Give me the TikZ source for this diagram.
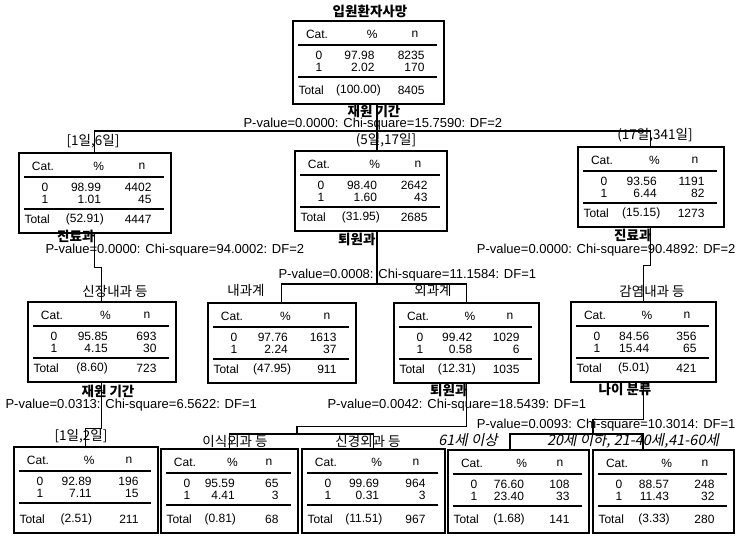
\documentclass[tikz,border=0pt]{standalone}
\usepackage{fontspec}
\setmainfont{Liberation Sans}
\newfontfamily\kr{Noto Sans CJK KR}
\newfontfamily\krit[FakeSlant=0.2]{Noto Sans CJK KR}

\tikzset{
  every node/.style={inner sep=0pt, font=\fontsize{12}{14}\selectfont},
  leaf/.style={draw, line width=1.5pt, anchor=north west},
  rule/.style={line width=1.1pt},
  stat/.style={font=\fontsize{13}{15}\selectfont},
  splitvar/.style={font=\kr\bfseries\fontsize{13.5}{15}\selectfont},
  branch/.style={font=\kr\fontsize{13.5}{15}\selectfont},
  agegroup/.style={font=\krit\fontsize{14.5}{16}\selectfont}
}

\begin{document}
\begin{tikzpicture}[x=1pt, y=-1pt, line width=1.1pt]

\useasboundingbox (0,0) rectangle (736,549);

% title
\node [font=\kr\bfseries\fontsize{13.5}{15}\selectfont] (title) at (370,11) {입원환자사망};

% define tree nodes
\foreach \nm/\x/\y/\w/\h/\pa/\na/\pb/\nb/\pc/\nc in {
  T/292/20/151/83/97.98/8235/2.02/170/100.00/8405,
  L/18/152/152/80/98.99/4402/1.01/45/52.91/4447,
  M/294/150/152/80/98.40/2642/1.60/43/31.95/2685,
  R/577/146/146/80/93.56/1191/6.44/82/15.15/1273,
  A/27/301/148/80/95.85/693/4.15/30/8.60/723,
  B/207/302/148/80/97.76/1613/2.24/37/47.95/911,
  C/393/302/145/80/99.42/1029/0.58/6/12.31/1035,
  D/570/301/145/80/84.56/356/15.44/65/5.01/421,
  E/13/446/144/86/92.89/196/7.11/15/2.51/211,
  F/160/448/137/84/95.59/65/4.41/3/0.81/68,
  G/301/448/143/84/99.69/964/0.31/3/11.51/967,
  H/447/449/141/83/76.60/108/23.40/33/1.68/141,
  I/592/449/141/83/88.57/248/11.43/32/3.33/280}
{
  \node [leaf, minimum width=\w, minimum height=\h] (\nm) at (\x,\y) {};
  % header row
  \node (\nm-cat) at (\x+25,\y+14) {Cat.};
  \node [anchor=east] (\nm-pct) at (\x+0.55*\w+3,\y+14) {\%};
  \node (\nm-n) at (\x+\w-28,\y+14) {n};
  \draw [rule] (\x+6,\y+25) -- (\x+\w-6,\y+25);
  % class rows
  \node (\nm-c0) at (\x+27,\y+35) {0};
  \node [anchor=east] (\nm-p0) at (\x+0.55*\w,\y+35) {\pa};
  \node [anchor=east] (\nm-n0) at (\x+\w-18,\y+35) {\na};
  \node (\nm-c1) at (\x+27,\y+47) {1};
  \node [anchor=east] (\nm-p1) at (\x+0.55*\w,\y+47) {\pb};
  \node [anchor=east] (\nm-n1) at (\x+\w-18,\y+47) {\nb};
  \draw [rule] (\x+6,\y+57) -- (\x+\w-6,\y+57);
  % total row
  \node [anchor=west] (\nm-tot) at (\x+6,\y+\h-13) {Total};
  \node (\nm-pt) at (\x+0.44*\w,\y+\h-13) {(\pc)};
  \node [anchor=east] (\nm-nt) at (\x+\w-18,\y+\h-13) {\nc};
}

% connect root to first split
\coordinate (s0) at (377,131);
\draw (T.south -| s0) -- (s0);
\draw (L.north) |- (s0) -| (R.north);
\draw (s0) -- (s0 |- M.north);

% connect second level
\draw (L.south) -- ++(0,34) -| (A.north);
\coordinate (s2) at (377,284);
\draw (M.south -| s2) -- (s2);
\draw (B.north) |- (s2) -| (C.north);
\draw (R.south) -- ++(0,38) -| (D.north);

% connect third level
\draw (A.south) -- ++(0,46) -| (E.north);
\coordinate (s5) at (297,434);
\draw (C.south) -- ++(0,43) -| (s5);
\draw (F.north) |- (s5) -| (G.north);
\coordinate (s6) at (593,434);
\coordinate (h) at (510,434);
\coordinate (i) at (643,434);
\draw (D.south) -- ++(0,37) -| (s6);
\draw (h |- H.north) |- (s6) -| (i |- I.north);

% split variables
\node [splitvar] (varT) at (374,111) {재원 기간};
\node [splitvar, anchor=east] (varL) at (95,236) {진료과};
\node [splitvar, anchor=east] (varM) at (376,239) {퇴원과};
\node [splitvar, anchor=east] (varR) at (652,235) {진료과};
\node [splitvar] (varA) at (108,391) {재원 기간};
\node [splitvar, anchor=east] (varC) at (468,390) {퇴원과};
\node [splitvar] (varD) at (625,389) {나이 분류};

% split statistics
\node [stat, anchor=west] (statT) at (243,124) {P-value=0.0000: Chi-square=15.7590: DF=2};
\node [stat, anchor=west] (statL) at (45,250) {P-value=0.0000: Chi-square=94.0002: DF=2};
\node [stat, anchor=west] (statM) at (278,275) {P-value=0.0008: Chi-square=11.1584: DF=1};
\node [stat, anchor=east] (statR) at (736,250) {P-value=0.0000: Chi-square=90.4892: DF=2};
\node [stat, anchor=west] (statA) at (5,405) {P-value=0.0313: Chi-square=6.5622: DF=1};
\node [stat, anchor=west] (statC) at (327,405) {P-value=0.0042: Chi-square=18.5439: DF=1};
\node [stat, anchor=east] (statD) at (736,425) {P-value=0.0093: Chi-square=10.3014: DF=1};

% branch labels
\node [branch] (brL) at (93,141) {[1일,6일]};
\node [branch] (brM) at (386,140) {(5일,17일]};
\node [branch] (brR) at (655,135) {(17일,341일]};
\node [branch] (brA) at (115,291) {신장내과 등};
\node [branch] (brB) at (246,290) {내과계};
\node [branch] (brC) at (433,290) {외과계};
\node [branch] (brD) at (652,291) {감염내과 등};
\node [branch] (brE) at (81,436) {[1일,2일]};
\node [branch] (brF) at (235,441) {이식외과 등};
\node [branch] (brG) at (368,441) {신경외과 등};
\node [agegroup] (brH) at (468,440) {61세 이상};
\node [agegroup] (brI) at (633,441) {20세 이하, 21-40세,41-60세};

\end{tikzpicture}
\end{document}
